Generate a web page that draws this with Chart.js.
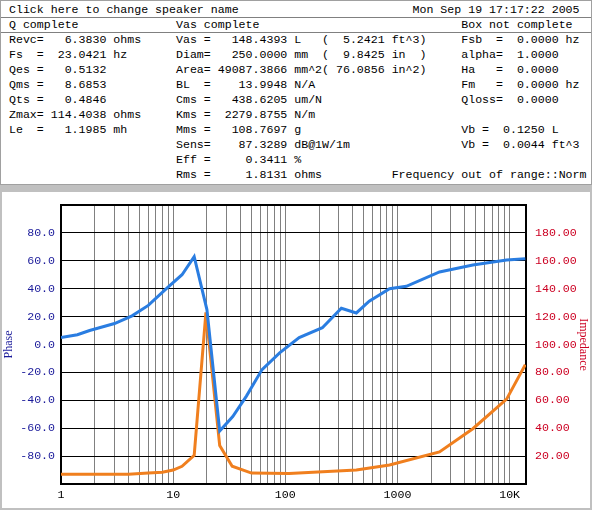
<!DOCTYPE html>
<html lang="en">
<head>
<meta charset="UTF-8">
<title>Speaker parameters</title>
<style>
    body { margin: 0; width: 592px; height: 510px; background: #c0c0c0; overflow: hidden; position: relative; }
    #panel { position: absolute; left: 0; top: 0; width: 590px; height: 183px; background: #fff; border: 1px solid #a0a0a0; }
    #panel pre { margin: 0; position: absolute; left: 8px; top: 1px; font-family: "Liberation Mono", monospace; font-size: 11.6px; line-height: 15px; color: #000; }
    .sep { position: absolute; left: 0; width: 590px; height: 1px; background: #808080; }
    #chartBox { position: absolute; left: 2px; top: 192px; width: 588px; height: 316px; background: #fff; }
    canvas { display: block; }
</style>
</head>
<body>
<div id="panel">
    <div class="sep" style="top:16px"></div>
    <div class="sep" style="top:31px"></div>
<pre>Click here to change speaker name                         Mon Sep 19 17:17:22 2005
Q complete              Vas complete                             Box not complete
Revc=   6.3830 ohms     Vas =   148.4393 L   (  5.2421 ft^3)     Fsb  =  0.0000 hz
Fs  =  23.0421 hz       Diam=   250.0000 mm  (  9.8425 in  )     alpha=  1.0000
Qes =   0.5132          Area= 49087.3866 mm^2( 76.0856 in^2)     Ha   =  0.0000
Qms =   8.6853          BL  =    13.9948 N/A                     Fm   =  0.0000 hz
Qts =   0.4846          Cms =   438.6205 um/N                    Qloss=  0.0000
Zmax= 114.4038 ohms     Kms =  2279.8755 N/m
Le  =   1.1985 mh       Mms =   108.7697 g                       Vb =  0.1250 L
                        Sens=    87.3289 dB@1W/1m                Vb =  0.0044 ft^3
                        Eff =     0.3411 %
                        Rms =     1.8131 ohms          Frequency out of range::Norm</pre>
</div>
<div id="chartBox"><canvas id="c" width="588" height="316"></canvas></div>
<script src="https://cdn.jsdelivr.net/npm/chart.js"></script>
<script>
// frequency (Hz) and values
const phaseFreq = [1, 1.4, 1.8, 2.2, 3, 4.3, 6, 8.7, 12, 15.4, 20, 26, 34, 45, 62, 89, 133, 214, 316, 430, 560, 850, 1200, 2370, 4700, 9400, 13800];
const phaseVals = [5, 7, 10, 12, 15, 20.5, 28, 40, 50, 63, 25, -62, -51.6, -37, -18, -6, 5, 12, 26, 22.6, 31, 40, 41.7, 52, 57, 60.6, 61.5];
const impFreq = [1, 4, 6, 8, 10, 12, 15.4, 19.6, 26, 33.6, 50, 108, 430, 850, 2370, 4700, 9400, 13800];
const impVals = [7, 7, 7.8, 8.5, 10, 12.7, 20.5, 123, 27.6, 12.7, 7.8, 7.5, 10, 13.6, 23, 39.6, 60.8, 85.5];
const xTickValues = [];
for (let d = 1; d <= 10000; d *= 10) for (let m = 1; m <= 9; m++) if (d * m <= 14000) xTickValues.push(d * m);
const xLabels = {1: '1', 10: '10', 100: '100', 1000: '1000', 10000: '10K'};

const font = { family: 'Liberation Mono', size: 11.6 };
const toPts = (xs, ys) => xs.map((x, i) => ({ x: x, y: ys[i] }));

new Chart(document.getElementById('c'), {
    type: 'scatter',
    data: {
        datasets: [
            { label: 'Phase', data: toPts(phaseFreq, phaseVals), yAxisID: 'yP', showLine: true,
              borderColor: '#2a7de1', borderWidth: 3, pointRadius: 0, tension: 0 },
            { label: 'Impedance', data: toPts(impFreq, impVals), yAxisID: 'yZ', showLine: true,
              borderColor: '#f07f1e', borderWidth: 3, pointRadius: 0, tension: 0 }
        ]
    },
    options: {
        responsive: false,
        animation: false,
        layout: { padding: { top: 6, right: 0, left: 0, bottom: 0 } },
        plugins: { legend: { display: false }, tooltip: { enabled: false } },
        scales: {
            x: {
                type: 'logarithmic', min: 1, max: 14000,
                afterBuildTicks: s => { s.ticks = xTickValues.map(v => ({ value: v })); },
                afterFit: s => { s.height = 24; },
                ticks: { color: '#000', font: font, autoSkip: false, maxRotation: 0, padding: 4,
                         callback: v => xLabels[v] || '' },
                grid: { color: '#808080', lineWidth: 1, drawTicks: false },
                border: { color: '#000', width: 2 }
            },
            yP: {
                position: 'left', min: -100, max: 100,
                afterFit: s => { s.width = 59; },
                ticks: { stepSize: 20, color: '#1a1a9a', font: font, padding: 6,
                         callback: v => Math.abs(v) === 100 ? '' : v.toFixed(1) },
                title: { display: true, text: 'Phase', color: '#1a1a9a', font: { family: 'Liberation Serif', size: 12 }, padding: 0 },
                grid: { color: '#000', lineWidth: 1, drawTicks: false },
                border: { color: '#000', width: 2 }
            },
            yZ: {
                position: 'right', min: 0, max: 200,
                afterFit: s => { s.width = 64; },
                ticks: { stepSize: 20, color: '#cc0022', font: font, padding: 1,
                         callback: v => (v === 0 || v === 200) ? '' : v.toFixed(2) },
                title: { display: true, text: 'Impedance', color: '#cc0022', font: { family: 'Liberation Serif', size: 12 }, padding: 0 },
                grid: { display: false },
                border: { color: '#000', width: 2 }
            }
        }
    },
    plugins: [{
        id: 'topBorder',
        afterDraw(chart) {
            const a = chart.chartArea, ctx = chart.ctx;
            ctx.save();
            ctx.strokeStyle = '#000'; ctx.lineWidth = 2;
            ctx.beginPath(); ctx.moveTo(a.left, a.top); ctx.lineTo(a.right, a.top); ctx.stroke();
            ctx.restore();
        }
    }]
});
</script>
</body>
</html>
